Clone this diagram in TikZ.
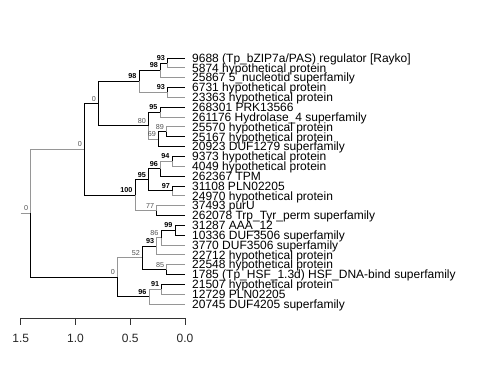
\documentclass[tikz,border=0pt]{standalone}
\usepackage{fontspec}
\setmainfont{Liberation Sans}
\usetikzlibrary{calc}
\definecolor{edgegray}{RGB}{150,150,150}
\begin{document}
\begin{tikzpicture}[x=1pt,y=-1pt,
  eb/.style={draw=black,line width=0.8pt},
  eg/.style={draw=edgegray,line width=0.8pt},
  tiplab/.style={font=\fontsize{12}{12}\selectfont, anchor=base west, inner sep=0pt},
  supb/.style={font=\fontsize{7.2}{8}\selectfont\bfseries, anchor=base east, inner sep=0pt, xshift=-2.3pt, yshift=2.5pt},
  supr/.style={font=\fontsize{7.2}{8}\selectfont, text=black!68, anchor=base east, inner sep=0pt, xshift=-2.3pt, yshift=2.5pt},
  axl/.style={font=\fontsize{12}{12}\selectfont, anchor=base, inner sep=0pt, text=black!85},
]
\useasboundingbox (0,0) rectangle (480,390);
% internal nodes
\coordinate (RS) at (20.7,213.29);
\coordinate (R) at (30.7,213.29);
\coordinate (A) at (84.3,149.33);
\coordinate (A1) at (98.3,103.51);
\coordinate (B) at (139,81.37);
\coordinate (B1) at (160.3,70.30);
\coordinate (B1a) at (167.5,62.92);
\coordinate (B2) at (167.5,92.44);
\coordinate (C) at (148.3,125.65);
\coordinate (C1) at (160,112.12);
\coordinate (C2) at (158.5,139.18);
\coordinate (C2a) at (166.5,131.80);
\coordinate (D) at (135,195.15);
\coordinate (E) at (148.3,179.77);
\coordinate (E1) at (160.5,168.70);
\coordinate (E1a) at (172,161.32);
\coordinate (E2) at (172.5,190.84);
\coordinate (F) at (156.7,210.52);
\coordinate (G) at (117.3,277.25);
\coordinate (H) at (142.3,257.88);
\coordinate (I) at (156.7,246.19);
\coordinate (J) at (161,237.58);
\coordinate (K) at (175,230.20);
\coordinate (L) at (166.7,269.56);
\coordinate (M) at (149,296.62);
\coordinate (N) at (161.7,289.24);
% tips
\foreach \i in {0,...,25} {
  \coordinate (t\i) at (185,{58+9.84*\i});
}
% edges
\draw[eg] (RS) -- (R);
\draw[eg] (R) |- (A);
\draw[eb] (R) |- (G);
\draw[eb] (A) |- (A1);
\draw[eb] (A) |- (D);
\draw[eb] (A1) |- (B);
\draw[eb] (A1) |- (C);
\draw[eb] (B) |- (B1);
\draw[eg] (B) |- (B2);
\draw[eb] (B1) |- (B1a);
\draw[eg] (B1) |- (t2);
\draw[eb] (B1a) |- (t0);
\draw[eg] (B1a) |- (t1);
\draw[eb] (B2) |- (t3);
\draw[eg] (B2) |- (t4);
\draw[eb] (C) |- (C1);
\draw[eg] (C) |- (C2);
\draw[eb] (C1) |- (t5);
\draw[eg] (C1) |- (t6);
\draw[eb] (C2) |- (C2a);
\draw[eb] (C2) |- (t9);
\draw[eg] (C2a) |- (t7);
\draw[eb] (C2a) |- (t8);
\draw[eb] (D) |- (E);
\draw[eg] (D) |- (F);
\draw[eb] (E) |- (E1);
\draw[eb] (E) |- (E2);
\draw[eg] (E1) |- (E1a);
\draw[eb] (E1) |- (t12);
\draw[eb] (E1a) |- (t10);
\draw[eg] (E1a) |- (t11);
\draw[eb] (E2) |- (t13);
\draw[eg] (E2) |- (t14);
\draw[eg] (F) |- (t15);
\draw[eb] (F) |- (t16);
\draw[eg] (G) |- (H);
\draw[eb] (G) |- (M);
\draw[eb] (H) |- (I);
\draw[eb] (H) |- (L);
\draw[eg] (I) |- (J);
\draw[eg] (I) |- (t20);
\draw[eb] (J) |- (K);
\draw[eg] (J) |- (t19);
\draw[eb] (K) |- (t17);
\draw[eb] (K) |- (t18);
\draw[eg] (L) |- (t21);
\draw[eb] (L) |- (t22);
\draw[eg] (M) |- (N);
\draw[eg] (M) |- (t25);
\draw[eb] (N) |- (t23);
\draw[eg] (N) |- (t24);
% support labels
\node[supr] (sR) at (R) {0};
\node[supr] (sA) at (A) {0};
\node[supr] (sA1) at (A1) {0};
\node[supb] (sB) at (B) {98};
\node[supb] (sB1) at (B1) {98};
\node[supb] (sB1a) at (B1a) {93};
\node[supb] (sB2) at (B2) {93};
\node[supr] (sC) at (C) {80};
\node[supb] (sC1) at (C1) {95};
\node[supr] (sC2) at (C2) {69};
\node[supr] (sC2a) at (C2a) {89};
\node[supb] (sD) at (D) {100};
\node[supb] (sE) at (E) {95};
\node[supb] (sE1) at (E1) {96};
\node[supb] (sE1a) at (E1a) {94};
\node[supb] (sE2) at (E2) {97};
\node[supr] (sF) at (F) {77};
\node[supr] (sG) at (G) {0};
\node[supr] (sH) at (H) {52};
\node[supb] (sI) at (I) {93};
\node[supr] (sJ) at (J) {86};
\node[supb] (sK) at (K) {99};
\node[supr] (sL) at (L) {85};
\node[supb] (sM) at (M) {96};
\node[supb] (sN) at (N) {91};
% tip labels
\foreach \i/\txt in {
 0/{9688 (Tp\_bZIP7a/PAS) regulator [Rayko]},
 1/{5874 hypothetical protein},
 2/{25867 5\_nucleotid superfamily},
 3/{6731 hypothetical protein},
 4/{23363 hypothetical protein},
 5/{268301 PRK13566},
 6/{261176 Hydrolase\_4 superfamily},
 7/{25570 hypothetical protein},
 8/{25167 hypothetical protein},
 9/{20923 DUF1279 superfamily},
 10/{9373 hypothetical protein},
 11/{4049 hypothetical protein},
 12/{262367 TPM},
 13/{31108 PLN02205},
 14/{24970 hypothetical protein},
 15/{37493 purU},
 16/{262078 Trp\_Tyr\_perm superfamily},
 17/{31287 AAA\_12},
 18/{10336 DUF3506 superfamily},
 19/{3770 DUF3506 superfamily},
 20/{22712 hypothetical protein},
 21/{22548 hypothetical protein},
 22/{1785 (Tp\_HSF\_1.3d) HSF\_DNA-bind superfamily},
 23/{21507 hypothetical protein},
 24/{12729 PLN02205},
 25/{20745 DUF4205 superfamily}} {
  \node[tiplab] (lab\i) at ($(t\i)+(7,4.3)$) {\txt};
}
% axis
\coordinate (ax0) at (20.7,318);
\coordinate (ax1) at (75.47,318);
\coordinate (ax2) at (130.23,318);
\coordinate (ax3) at (185,318);
\draw[black!80,line width=0.8pt] (ax0) -- (ax3);
\foreach \p/\v in {ax0/1.5,ax1/1.0,ax2/0.5,ax3/0.0} {
  \draw[black!80,line width=0.8pt] (\p) -- ++(0,7);
  \node[axl] (al\p) at ($(\p)+(0,24.5)$) {\v};
}
\end{tikzpicture}
\end{document}
